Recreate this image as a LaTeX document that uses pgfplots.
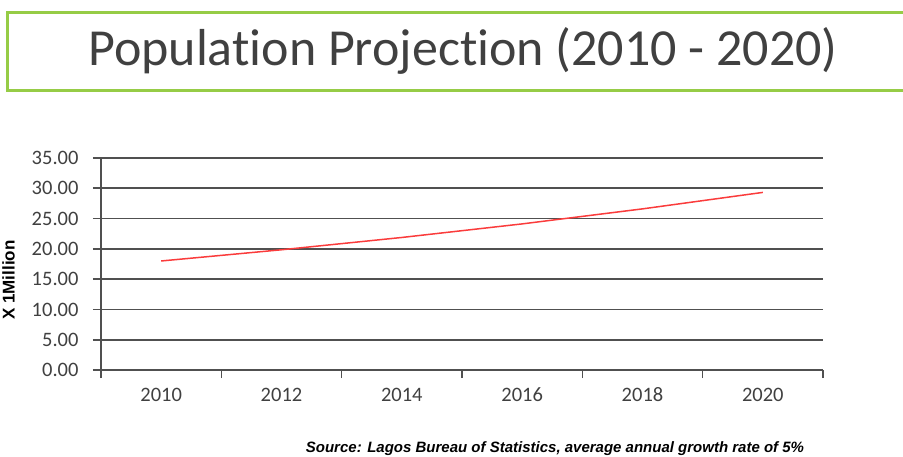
\documentclass[border=0pt]{standalone}
\usepackage{pgfplots}
\pgfplotsset{compat=1.18}
\usepackage{fontspec}
\setmainfont{Carlito}[Ligatures=NoCommon]
\newfontfamily\arialf{Liberation Sans}
\definecolor{boxgreen}{RGB}{150,204,70}
\definecolor{gridgray}{RGB}{80,80,80}
\definecolor{linered}{RGB}{250,60,60}
\definecolor{txt}{RGB}{64,64,64}
\begin{document}
\begin{tikzpicture}[x=1pt,y=1pt]
\useasboundingbox (0,0) rectangle (903,456);
\draw[boxgreen, line width=3pt] (910,443) -- (7.5,443) -- (7.5,365) -- (910,365);
\node[txt, anchor=base, font=\fontsize{52}{60}\selectfont] at (463,390) {Population Projection (2010 - 2020)};
\node[black, anchor=base, rotate=90, font=\arialf\bfseries\fontsize{17}{20}\selectfont] at (14.5,176) {X 1Million};
\node[black, font=\arialf\bfseries\itshape\fontsize{15}{18}\selectfont] at (555,7) {Source: Lagos Bureau of Statistics, average annual growth rate of 5\%};
\begin{axis}[
  at={(101pt,86pt)}, anchor=south west,
  scale only axis, width=722pt, height=212pt,
  xmin=0, xmax=6, ymin=0, ymax=35,
  axis x line=bottom, axis y line=left,
  x axis line style={-, gridgray, line width=1.6pt},
  y axis line style={-, gridgray, line width=1.6pt},
  xtick={0.5,1.5,2.5,3.5,4.5,5.5},
  xticklabels={2010,2012,2014,2016,2018,2020},
  major x tick style={draw=none},
  minor xtick={0,1,2,3,4,5,6},
  minor x tick style={gridgray, line width=1.6pt},
  minor tick length=8pt,
  ytick={0,5,...,35},
  y tick style={gridgray, line width=1.6pt},
  major tick length=8pt,
  tick align=outside,
  ymajorgrids,
  grid style={gridgray, line width=1.6pt},
  yticklabel style={/pgf/number format/fixed, /pgf/number format/fixed zerofill, /pgf/number format/precision=2},
  /pgf/number format/assume math mode=true,
  ticklabel style={txt, font=\fontsize{20.5}{24}\selectfont},
  xticklabel style={yshift=-6pt, text height=14pt, text depth=0pt},
  yticklabel style={xshift=-11pt},
]
\addplot[linered, line width=1.5pt, mark=none] coordinates {(0.5,18.00) (1.5,19.85) (2.5,21.88) (3.5,24.12) (4.5,26.60) (5.5,29.32)};
\end{axis}
\end{tikzpicture}
\end{document}
